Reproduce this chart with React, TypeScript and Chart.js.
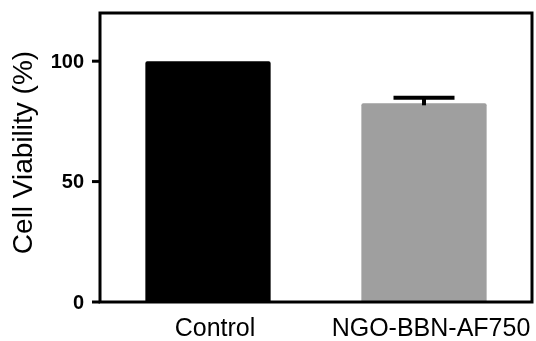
import React, { useEffect, useRef } from "react";
import { Chart, registerables } from "chart.js";

Chart.register(...registerables);

const categories = ["Control", "NGO-BBN-AF750"];
const viability = [100, 82.5];
const errors = [0, 2.3];
const barColors = ["#000000", "#9f9f9f"];
const yTicks = [0, 50, 100];
const yTitle = "Cell Viability (%)";

const FONT = "'Liberation Sans', Arial, sans-serif";

const frameAndErrors = {
  id: "frameAndErrors",
  afterDatasetsDraw(chart: any) {
    const ctx = chart.ctx;
    const { left, right, top, bottom } = chart.chartArea;
    const meta = chart.getDatasetMeta(0);
    const yScale = chart.scales.y;
    ctx.save();
    ctx.strokeStyle = "#000";
    ctx.fillStyle = "#000";
    meta.data.forEach((bar: any, i: number) => {
      const err = errors[i];
      if (!err) return;
      const yTop = yScale.getPixelForValue(viability[i] + err);
      const yBar = yScale.getPixelForValue(viability[i]);
      ctx.lineWidth = 4;
      ctx.beginPath();
      ctx.moveTo(bar.x, yBar + 2);
      ctx.lineTo(bar.x, yTop);
      ctx.stroke();
      ctx.beginPath();
      ctx.moveTo(bar.x - 30.5, yTop);
      ctx.lineTo(bar.x + 30.5, yTop);
      ctx.stroke();
    });
    ctx.lineWidth = 3;
    ctx.strokeRect(left, top, right - left, bottom - top);
    // y ticks and labels
    ctx.font = `bold 20px ${FONT}`;
    ctx.textAlign = "right";
    ctx.textBaseline = "middle";
    yTicks.forEach((v) => {
      const y = yScale.getPixelForValue(v);
      ctx.beginPath();
      ctx.moveTo(left - 8, y);
      ctx.lineTo(left, y);
      ctx.stroke();
      ctx.fillText(String(v), left - 16, y + 1);
    });
    // y-axis title
    ctx.translate(24.5, (top + bottom) / 2 - 5);
    ctx.rotate(-Math.PI / 2);
    ctx.textAlign = "center";
    ctx.textBaseline = "middle";
    ctx.font = `28px ${FONT}`;
    ctx.fillText(yTitle, 0, 0);
    ctx.restore();
  },
};

export default function App() {
  const ref = useRef<HTMLCanvasElement>(null);
  useEffect(() => {
    document.body.style.margin = "0";
    const chart = new Chart(ref.current!, {
      type: "bar",
      data: {
        labels: categories,
        datasets: [
          {
            data: viability,
            backgroundColor: barColors,
            borderRadius: 2,
            borderSkipped: "bottom",
            barPercentage: 0.58,
            categoryPercentage: 1,
          },
        ],
      },
      options: {
        animation: false,
        responsive: false,
        layout: { padding: { top: 13, right: 4, left: 100, bottom: 0 } },
        plugins: { legend: { display: false }, tooltip: { enabled: false } },
        scales: {
          x: {
            grid: { display: false, drawTicks: false },
            border: { display: false },
            ticks: {
              color: "#000",
              padding: 12,
              labelOffset: 7,
              font: { family: FONT, size: 25 },
            },
            afterFit: (s: any) => {
              s.height = 39;
              s.paddingLeft = 0;
              s.paddingRight = 0;
            },
          },
          y: {
            display: false,
            min: 0,
            max: 120,
          },
        },
      },
      plugins: [frameAndErrors],
    });
    return () => chart.destroy();
  }, []);
  return <canvas ref={ref} width={536} height={341} />;
}
